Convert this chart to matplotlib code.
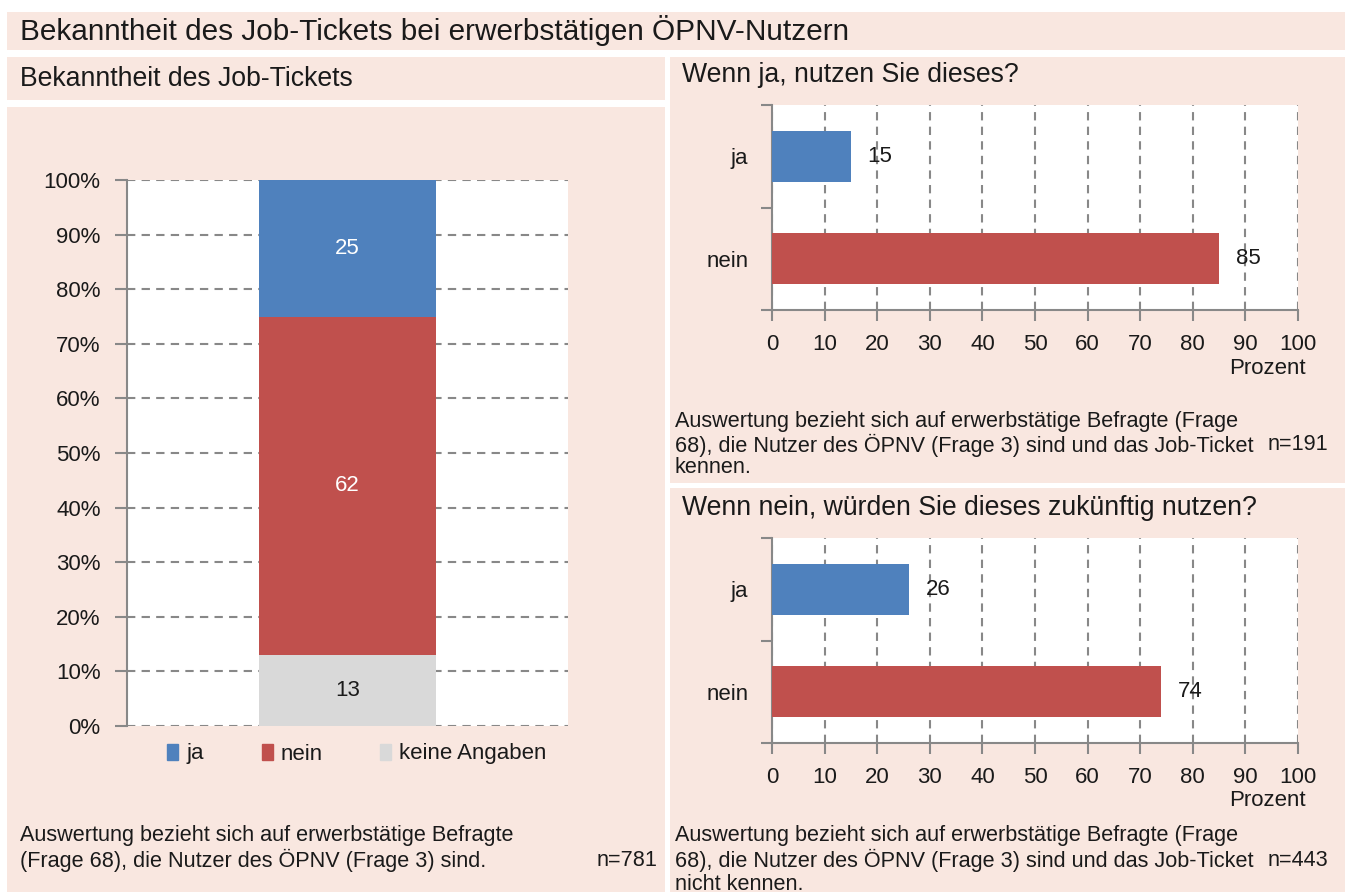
import matplotlib
matplotlib.use("Agg")
import matplotlib.pyplot as plt
from matplotlib.patches import Rectangle

plt.rcParams['font.family'] = ['Liberation Sans', 'DejaVu Sans']
plt.rcParams['text.color'] = '#1a1a1a'
plt.rcParams['xtick.color'] = '#888888'
plt.rcParams['ytick.color'] = '#888888'
plt.rcParams['xtick.labelcolor'] = '#1a1a1a'
plt.rcParams['ytick.labelcolor'] = '#1a1a1a'

# data
stack_labels = ['ja', 'nein', 'keine Angaben']
stack_values = [25, 62, 13]
stack_colors = ['#4F81BD', '#C0504D', '#D9D9D9']

q1_cats = ['ja', 'nein']
q1_vals = [15, 85]
q2_cats = ['ja', 'nein']
q2_vals = [26, 74]
bar_colors = ['#4F81BD', '#C0504D']

W, H = 1347, 892
PINK = '#F9E7E0'
GRID = '#888888'
TICK_FS = 16
NOTE_FS = 15.6
HEAD_FS = 19.2

fig = plt.figure(figsize=(W / 100, H / 100), dpi=100)


def fx(x):
    return x / W


def fy(y):
    return 1 - y / H


def rect(x0, y0, x1, y1):
    return [fx(x0), fy(y1), (x1 - x0) / W, (y1 - y0) / H]


def panel(x0, y0, x1, y1):
    fig.patches.append(Rectangle((fx(x0), fy(y1)), (x1 - x0) / W, (y1 - y0) / H,
                                 transform=fig.transFigure, facecolor=PINK,
                                 edgecolor='none', zorder=-5))


# background panels
panel(7, 12, 1345, 50)
panel(7, 57, 665, 100)
panel(7, 107, 665, 892)
panel(670, 57, 1345, 483)
panel(670, 488, 1345, 892)

fig.text(fx(20), fy(31), 'Bekanntheit des Job-Tickets bei erwerbstätigen ÖPNV-Nutzern',
         fontsize=21.4, va='center')
fig.text(fx(20), fy(79), 'Bekanntheit des Job-Tickets', fontsize=HEAD_FS, va='center')
fig.text(fx(682), fy(75), 'Wenn ja, nutzen Sie dieses?', fontsize=HEAD_FS, va='center')
fig.text(fx(682), fy(508), 'Wenn nein, würden Sie dieses zukünftig nutzen?', fontsize=HEAD_FS, va='center')

# left stacked column
ax = fig.add_axes(rect(127, 180, 568, 726))
bottom = 0
for i in [2, 1, 0]:
    ax.bar(0, stack_values[i], bottom=bottom, width=0.8, color=stack_colors[i],
           label=stack_labels[i], zorder=3)
    tc = '#1a1a1a' if i == 2 else 'white'
    ax.text(0, bottom + stack_values[i] / 2, str(stack_values[i]), ha='center',
            va='center', fontsize=TICK_FS, color=tc, zorder=4)
    bottom += stack_values[i]
ax.set_xlim(-1, 1)
ax.set_ylim(0, 100)
ax.set_yticks(range(0, 101, 10))
ax.set_yticklabels([f'{v}%' for v in range(0, 101, 10)], fontsize=TICK_FS)
ax.set_xticks([])
ax.grid(axis='y', linestyle=(0, (4, 3)), color=GRID, linewidth=1.5, zorder=1)
for s in ['top', 'right', 'bottom']:
    ax.spines[s].set_visible(False)
ax.spines['left'].set_color(GRID)
ax.spines['left'].set_linewidth(1.5)
ax.tick_params(axis='y', length=9, width=1.5, pad=10, direction='out')
ax.set_axisbelow(True)

handles = [Rectangle((0, 0), 1, 1, color=c) for c in stack_colors]
fig.legend(handles, stack_labels, loc='center', bbox_to_anchor=(fx(357), fy(754)),
           ncol=3, frameon=False, fontsize=TICK_FS, handlelength=0.5, handleheight=0.7,
           handletextpad=0.35, columnspacing=2.6)

fig.text(fx(20), fy(836), 'Auswertung bezieht sich auf erwerbstätige Befragte', fontsize=NOTE_FS, va='center')
fig.text(fx(20), fy(860), '(Frage 68), die Nutzer des ÖPNV (Frage 3) sind.', fontsize=NOTE_FS, va='center')
fig.text(fx(657), fy(860), 'n=781', fontsize=NOTE_FS, va='center', ha='right')


def hbar(box, cats, vals, label_y):
    a = fig.add_axes(rect(*box))
    y = list(range(len(cats)))
    a.barh(y, vals, height=0.5, color=bar_colors, zorder=3)
    for yi, v in zip(y, vals):
        a.annotate(str(v), (v, yi), xytext=(12, 0), textcoords='offset points',
                   va='center', ha='left', fontsize=TICK_FS, zorder=4)
    a.set_xlim(0, 100)
    a.set_ylim(len(cats) - 0.5, -0.5)
    a.set_xticks(range(0, 101, 10))
    a.set_xticklabels([str(v) for v in range(0, 101, 10)], fontsize=TICK_FS)
    a.set_yticks([-0.5, 0.5, 1.5])
    a.set_yticklabels([])
    a.set_yticks(y, minor=True)
    a.set_yticklabels(cats, minor=True, fontsize=TICK_FS)
    a.tick_params(axis='y', which='minor', length=0, pad=17)
    a.tick_params(axis='y', which='major', length=8, width=1.5)
    a.tick_params(axis='x', length=8, width=1.5, pad=9)
    a.grid(axis='x', linestyle=(0, (4, 3)), color=GRID, linewidth=1.5, zorder=1)
    for s in ['top', 'right']:
        a.spines[s].set_visible(False)
    for s in ['left', 'bottom']:
        a.spines[s].set_color(GRID)
        a.spines[s].set_linewidth(1.5)
    a.set_axisbelow(True)
    fig.text(fx(1306), fy(label_y), 'Prozent', fontsize=TICK_FS, ha='right', va='center')
    return a


hbar((772, 105, 1298, 310), q1_cats, q1_vals, 369)
hbar((772, 538, 1298, 743), q2_cats, q2_vals, 801)

fig.text(fx(675), fy(421), 'Auswertung bezieht sich auf erwerbstätige Befragte (Frage', fontsize=NOTE_FS, va='center')
fig.text(fx(675), fy(445), '68), die Nutzer des ÖPNV (Frage 3) sind und das Job-Ticket', fontsize=NOTE_FS, va='center')
fig.text(fx(675), fy(468), 'kennen.', fontsize=NOTE_FS, va='center')
fig.text(fx(1328), fy(445), 'n=191', fontsize=NOTE_FS, va='center', ha='right')

fig.text(fx(675), fy(836), 'Auswertung bezieht sich auf erwerbstätige Befragte (Frage', fontsize=NOTE_FS, va='center')
fig.text(fx(675), fy(860), '68), die Nutzer des ÖPNV (Frage 3) sind und das Job-Ticket', fontsize=NOTE_FS, va='center')
fig.text(fx(675), fy(884), 'nicht kennen.', fontsize=NOTE_FS, va='center')
fig.text(fx(1328), fy(860), 'n=443', fontsize=NOTE_FS, va='center', ha='right')

fig.savefig('out.png', dpi=100)
